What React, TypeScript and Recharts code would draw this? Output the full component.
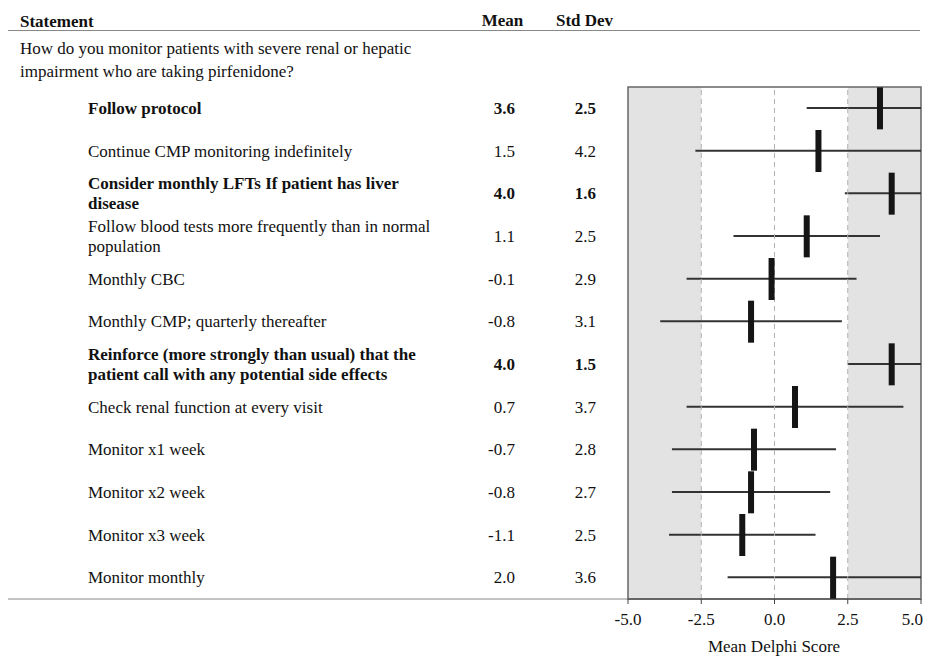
import React from "react";
import {
  ComposedChart,
  XAxis,
  YAxis,
  Bar,
  Scatter,
  ReferenceArea,
  ReferenceLine,
  Customized,
} from "recharts";

const statements: string[][] = [
  ["Follow protocol"],
  ["Continue CMP monitoring indefinitely"],
  ["Consider monthly LFTs If patient has liver", "disease"],
  ["Follow blood tests more frequently than in normal", "population"],
  ["Monthly CBC"],
  ["Monthly CMP; quarterly thereafter"],
  ["Reinforce (more strongly than usual) that the", "patient call with any potential side effects"],
  ["Check renal function at every visit"],
  ["Monitor x1 week"],
  ["Monitor x2 week"],
  ["Monitor x3 week"],
  ["Monitor monthly"],
];
const means = [3.6, 1.5, 4.0, 1.1, -0.1, -0.8, 4.0, 0.7, -0.7, -0.8, -1.1, 2.0];
const stdDevs = [2.5, 4.2, 1.6, 2.5, 2.9, 3.1, 1.5, 3.7, 2.8, 2.7, 2.5, 3.6];
const boldRows = [true, false, true, false, false, false, true, false, false, false, false, false];
const xTicks = [-5, -2.5, 0, 2.5, 5];
const xDomain: [number, number] = [-5, 5];
const question = [
  "How do you monitor patients with severe renal or hepatic",
  "impairment who are taking pirfenidone?",
];

const rows = statements.map((lines, i) => ({
  id: String(i),
  lines,
  mean: means[i],
  sd: stdDevs[i],
  bold: boldRows[i],
  range: [
    Math.max(xDomain[0], means[i] - stdDevs[i]),
    Math.min(xDomain[1], means[i] + stdDevs[i]),
  ],
}));

const FONT = "'Liberation Serif', 'Times New Roman', serif";
const FS = 17;

const RowTick = (props: any) => {
  const { y, payload } = props;
  const row = rows.find((r) => r.id === String(payload.value));
  if (!row) return null;
  const weight = row.bold ? "bold" : "normal";
  const n = row.lines.length;
  const lh = 20;
  return (
    <g>
      {row.lines.map((ln, k) => (
        <text
          key={k}
          x={88}
          y={y + (k - (n - 1) / 2) * lh}
          dominantBaseline="central"
          fontFamily={FONT}
          fontSize={FS}
          fontWeight={weight}
          fill="#111"
        >
          {ln}
        </text>
      ))}
      <text x={515} y={y} textAnchor="end" dominantBaseline="central" fontFamily={FONT} fontSize={FS} fontWeight={weight} fill="#111">
        {row.mean.toFixed(1)}
      </text>
      <text x={596} y={y} textAnchor="end" dominantBaseline="central" fontFamily={FONT} fontSize={FS} fontWeight={weight} fill="#111">
        {row.sd.toFixed(1)}
      </text>
    </g>
  );
};

const XTick = (props: any) => {
  const { x, y, payload } = props;
  const v = Number(payload.value);
  const anchor = v === xDomain[1] ? "end" : "middle";
  return (
    <text
      x={v === xDomain[1] ? x + 2 : x}
      y={y}
      dy="0.71em"
      textAnchor={anchor}
      fontFamily={FONT}
      fontSize={FS}
      fill="#111"
    >
      {v.toFixed(1)}
    </text>
  );
};

const MeanMarker = (props: any) => {
  const { cx, cy } = props;
  if (cx == null || cy == null) return null;
  return <rect x={cx - 3} y={cy - 21} width={6} height={42} fill="#151515" />;
};

const Overlay = () => (
  <g>
    <text x={20} y={21} dominantBaseline="central" fontFamily={FONT} fontSize={FS} fontWeight="bold" fill="#111">
      Statement
    </text>
    <text x={502.5} y={20} textAnchor="middle" dominantBaseline="central" fontFamily={FONT} fontSize={FS} fontWeight="bold" fill="#111">
      Mean
    </text>
    <text x={584.5} y={20} textAnchor="middle" dominantBaseline="central" fontFamily={FONT} fontSize={FS} fontWeight="bold" fill="#111">
      Std Dev
    </text>
    <line x1={8} x2={920} y1={30.5} y2={30.5} stroke="#888" strokeWidth={1} />
    {question.map((q, k) => (
      <text key={k} x={20} y={48 + k * 23} dominantBaseline="central" fontFamily={FONT} fontSize={FS} fill="#111">
        {q}
      </text>
    ))}
    <line x1={8} x2={628} y1={599} y2={599} stroke="#888" strokeWidth={1} />
    <text x={774} y={646} textAnchor="middle" dominantBaseline="central" fontFamily={FONT} fontSize={FS} fill="#111">
      Mean Delphi Score
    </text>
  </g>
);

export default function App() {
  return (
    <div style={{ position: "absolute", left: 0, top: 0, width: 934, height: 656 }}>
      <ComposedChart
        width={934}
        height={656}
        data={rows}
        layout="vertical"
        margin={{ top: 87, right: 13, bottom: 0, left: 8 }}
      >
        <XAxis
          type="number"
          domain={xDomain}
          ticks={xTicks}
          allowDataOverflow
          tick={<XTick />}
          tickLine={{ stroke: "#444" }}
          tickSize={5}
          tickMargin={9}
          axisLine={{ stroke: "#666", strokeWidth: 2 }}
          height={57}
        />
        <YAxis
          type="category"
          dataKey="id"
          width={620}
          axisLine={false}
          tickLine={false}
          tick={<RowTick />}
          interval={0}
        />
        <ReferenceArea x1={-5} x2={-2.5} fill="#e3e3e3" fillOpacity={1} stroke="none" />
        <ReferenceArea x1={2.5} x2={5} fill="#e3e3e3" fillOpacity={1} stroke="none" />
        <ReferenceLine x={-2.5} stroke="#b0b0b0" strokeDasharray="5 4" />
        <ReferenceLine x={0} stroke="#b0b0b0" strokeDasharray="5 4" />
        <ReferenceLine x={2.5} stroke="#b0b0b0" strokeDasharray="5 4" />
        <ReferenceArea x1={-5} x2={5} fill="none" stroke="#666" strokeWidth={1.5} />
        <Bar dataKey="range" barSize={2} fill="#333" isAnimationActive={false} />
        <Scatter dataKey="mean" shape={<MeanMarker />} isAnimationActive={false} />
        <Customized component={Overlay} />
      </ComposedChart>
    </div>
  );
}
